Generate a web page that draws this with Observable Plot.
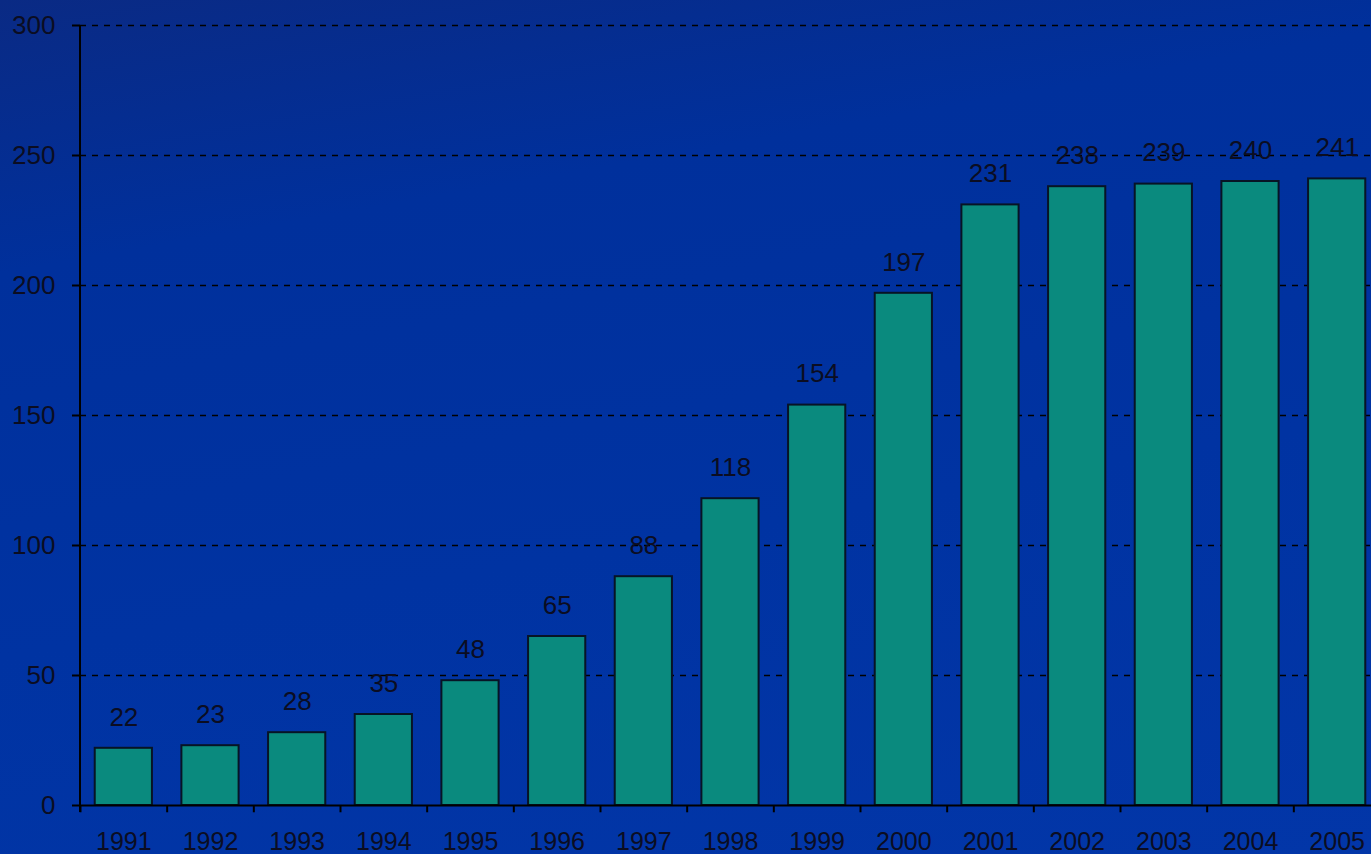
<!DOCTYPE html>
<html>
<head>
<meta charset="utf-8">
<script src="https://cdn.jsdelivr.net/npm/d3@7"></script>
<script src="https://cdn.jsdelivr.net/npm/@observablehq/plot@0.6"></script>
<style>
  html, body { margin: 0; padding: 0; overflow: hidden; }
  body {
    width: 1371px; height: 854px;
    background: linear-gradient(170deg, #0a2a84 0%, #00309c 25%, #0033a2 60%, #0236a8 100%);
  }
  #chart svg { display: block; background: transparent; }
</style>
</head>
<body>
<div id="chart"></div>
<script>
const years = ["1991","1992","1993","1994","1995","1996","1997","1998","1999","2000","2001","2002","2003","2004","2005"];
const values = [22, 23, 28, 35, 48, 65, 88, 118, 154, 197, 231, 238, 239, 240, 241];
const yTicks = [0, 50, 100, 150, 200, 250, 300];

const data = years.map((year, i) => ({year, value: values[i]}));

const step = 1300 / years.length;
const ink = "#0b0d22";

const chart = Plot.plot({
  width: 1371,
  height: 854,
  marginLeft: 80,
  marginTop: 25,
  marginBottom: 49,
  marginRight: 0,
  style: {background: "transparent", fontFamily: "'Liberation Sans', Arial, sans-serif", color: ink},
  x: {domain: years, range: [80, 1380], round: false, paddingInner: 0.34, paddingOuter: 0.17, label: null},
  y: {domain: [0, 300], ticks: yTicks, label: null},
  marks: [
    Plot.gridY(yTicks.filter(d => d > 0), {stroke: "#000", strokeOpacity: 1, strokeWidth: 1.6, strokeDasharray: "6,6"}),
    Plot.barY(data, {x: "year", y: "value", fill: "#0a8a7e", stroke: "#071425", strokeWidth: 2}),
    Plot.ruleX(years, {x: d => d, dx: -step / 2, y1: 0, y2: -2.8, stroke: "#000", strokeWidth: 2}),
    Plot.ruleY([0], {stroke: "#000", strokeWidth: 2}),
    Plot.axisY({ticks: yTicks, tickSize: 8, tickPadding: 17, fontSize: 26, stroke: "#000", strokeWidth: 2, fill: ink, label: null}),
    Plot.axisX({tickSize: 0, tickPadding: 27, fontSize: 25, fill: ink, label: null}),
    Plot.text(data, {x: "year", y: "value", text: d => String(d.value), dy: -31, fontSize: 26, fill: ink, lineAnchor: "middle"})
  ]
});

// vertical axis line
const svg = d3.select(chart);
svg.append("line")
  .attr("x1", 80).attr("x2", 80)
  .attr("y1", 25).attr("y2", 812)
  .attr("stroke", "#000").attr("stroke-width", 2);

document.getElementById("chart").appendChild(chart);
</script>
</body>
</html>
